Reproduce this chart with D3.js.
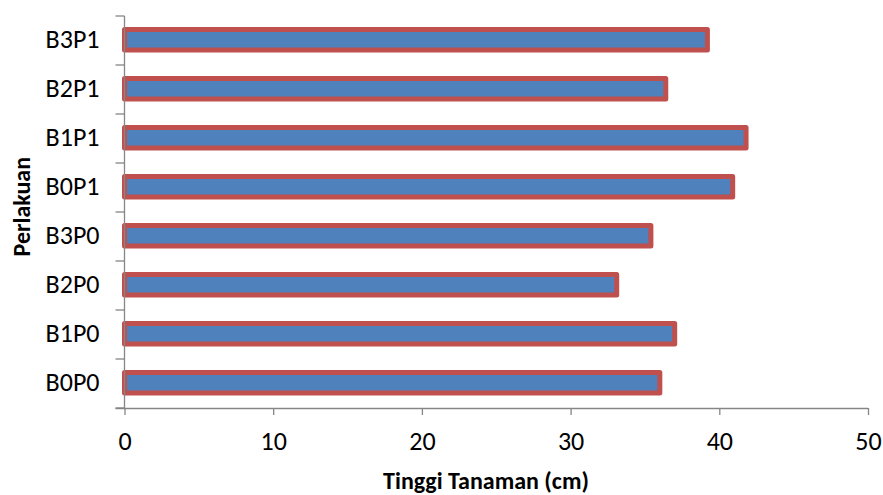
<!DOCTYPE html>
<html>
<head>
<meta charset="utf-8">
<script src="https://cdn.jsdelivr.net/npm/d3@7"></script>
<style>
  html, body { margin: 0; padding: 0; background: #fff; }
  svg { display: block; font-family: Carlito, Lato, "Open Sans", sans-serif; }
</style>
</head>
<body>
<svg id="chart" width="883" height="495"></svg>
<script>
const categories = ["B0P0", "B1P0", "B2P0", "B3P0", "B0P1", "B1P1", "B2P1", "B3P1"];
const values = [36.0, 37.0, 33.1, 35.4, 40.9, 41.8, 36.4, 39.2];
const xTicks = [0, 10, 20, 30, 40, 50];
const xTitle = "Tinggi Tanaman (cm)";
const yTitle = "Perlakuan";

const plotLeft = 124.5, plotRight = 868, plotTop = 16, plotBottom = 408;

const svg = d3.select("#chart");

const x = d3.scaleLinear().domain([0, 50]).range([plotLeft, plotRight]);
const y = d3.scaleBand().domain(categories.slice().reverse()).range([plotTop, plotBottom]).padding(0);

const barFrac = 0.42;
const data = categories.map((c, i) => ({ c, v: values[i] }));

// bars
svg.append("g").selectAll("rect").data(data).join("rect")
  .attr("x", x(0))
  .attr("y", d => y(d.c) + y.bandwidth() * (1 - barFrac) / 2 - 0.8)
  .attr("width", d => x(d.v) - x(0))
  .attr("height", y.bandwidth() * barFrac)
  .attr("fill", "#4F81BD")
  .attr("stroke", "#C0504D")
  .attr("stroke-width", 5)
  .attr("stroke-linejoin", "round");

const axisColor = "#868686";

// x axis
const xAxis = svg.append("g").attr("transform", `translate(0,${plotBottom})`)
  .call(d3.axisBottom(x).tickValues(xTicks).tickSize(7).tickPadding(17).tickSizeOuter(0));
xAxis.select(".domain").attr("stroke", axisColor).attr("stroke-width", 1.3)
  .attr("d", `M${plotLeft - 9},0.5H${plotRight}`);
xAxis.selectAll(".tick line").attr("stroke", axisColor).attr("stroke-width", 1.3);
xAxis.selectAll(".tick text")
  .attr("font-family", "Carlito, Lato, sans-serif")
  .attr("font-size", 26).attr("fill", "#000");

// y axis line and boundary ticks
const yG = svg.append("g");
yG.append("line")
  .attr("x1", plotLeft).attr("x2", plotLeft)
  .attr("y1", y.range()[0]).attr("y2", y.range()[1])
  .attr("stroke", axisColor).attr("stroke-width", 1.3);
const bounds = y.domain().map(c => y(c)).concat([y.range()[1]]);
yG.selectAll("line.tk").data(bounds).join("line")
  .attr("class", "tk")
  .attr("x1", plotLeft - 9).attr("x2", plotLeft)
  .attr("y1", d => d).attr("y2", d => d)
  .attr("stroke", axisColor).attr("stroke-width", 1.3);
yG.selectAll("text").data(y.domain()).join("text")
  .attr("x", 99.5)
  .attr("y", d => y(d) + y.bandwidth() / 2 - 0.5)
  .attr("dy", "0.32em")
  .attr("text-anchor", "end")
  .attr("font-size", 26)
  .attr("fill", "#000")
  .text(d => d);

// titles
svg.append("text")
  .attr("x", 486).attr("y", 489)
  .attr("text-anchor", "middle")
  .attr("font-size", 24).attr("font-weight", "bold").attr("fill", "#000")
  .text(xTitle);

svg.append("text")
  .attr("transform", "translate(30,206.7) rotate(-90)")
  .attr("text-anchor", "middle")
  .attr("font-size", 24).attr("font-weight", "bold").attr("fill", "#000")
  .text(yTitle);
</script>
</body>
</html>
